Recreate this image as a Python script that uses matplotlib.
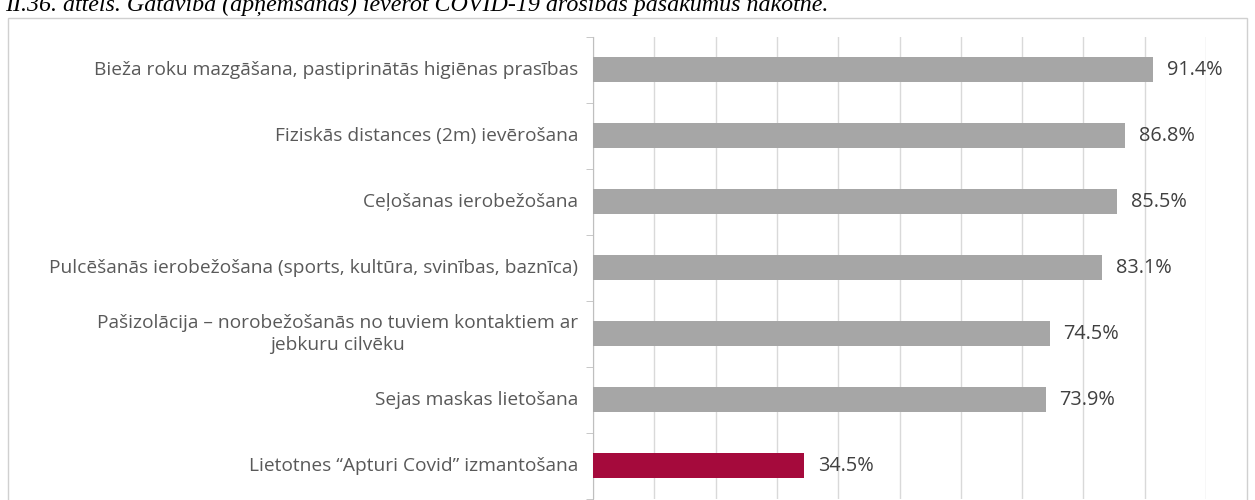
import numpy as np
import matplotlib.pyplot as plt
from matplotlib.patches import Rectangle

kategorijas = [
    "Bieža roku mazgāšana, pastiprinātās higiēnas prasības",
    "Fiziskās distances (2m) ievērošana",
    "Ceļošanas ierobežošana",
    "Pulcēšanās ierobežošana (sports, kultūra, svinības, baznīca)",
    "Pašizolācija – norobežošanās no tuviem kontaktiem ar\njebkuru cilvēku",
    "Sejas maskas lietošana",
    "Lietotnes \u201cApturi Covid\u201d izmantošana",
]
vertibas = [91.4, 86.8, 85.5, 83.1, 74.5, 73.9, 34.5]
krasas = ["#a6a6a6"] * 6 + ["#a50a3c"]
virsraksts = "II.36. attēls. Gatavība (apņemšanās) ievērot COVID-19 drošības pasākumus nākotnē."

W, H = 1255, 500
fig = plt.figure(figsize=(W / 100, H / 100), dpi=100)

# ramis ap diagrammu
fig.patches.append(Rectangle((8 / W, -0.1), (1247 - 8) / W, (H - 18) / H + 0.1,
                             transform=fig.transFigure, fill=False,
                             edgecolor="#d0d0d0", lw=1))

fig.text(5 / W, (H - 11) / H, virsraksts, fontsize=17.3, family="Liberation Serif",
         style="italic", va="baseline", ha="left", color="black")

ax = fig.add_axes([593 / W, 1.5 / H, 613 / W, 461.5 / H])
y = np.arange(len(vertibas))
ax.barh(y, vertibas, height=0.38, color=krasas, zorder=3)
for yi, v in zip(y, vertibas):
    ax.text(v + 2.2, yi, f"{v:.1f}%", va="center", ha="left",
            fontsize=14.3, family="Open Sans", color="#404040")

ax.set_xlim(0, 100)
ax.set_ylim(len(vertibas) - 0.5, -0.5)
ax.set_xticks(np.arange(0, 101, 10))
ax.xaxis.grid(True, color="#d9d9d9", lw=1, zorder=0)
ax.tick_params(axis="x", length=0, labelbottom=False)
ax.set_yticks(y)
ax.set_yticks(np.arange(-0.5, len(vertibas), 1), minor=True)
ax.tick_params(axis="y", length=0, pad=14)
ax.tick_params(axis="y", which="minor", length=5, color="#bfbfbf")
ax.set_yticklabels([])
# kategoriju nosaukumi kā teksts, lai otrā rinda būtu centrēta
trans = ax.get_yaxis_transform()
for yi, k in zip(y, kategorijas):
    ax.text(-15 / 613, yi, k, transform=trans, ha="right", va="center",
            multialignment="center", fontsize=13.8, family="Open Sans",
            color="#595959", linespacing=1.3)
for s in ["top", "right", "bottom"]:
    ax.spines[s].set_visible(False)
ax.spines["left"].set_color("#bfbfbf")

fig.savefig("out.png", dpi=100)
plt.close()
